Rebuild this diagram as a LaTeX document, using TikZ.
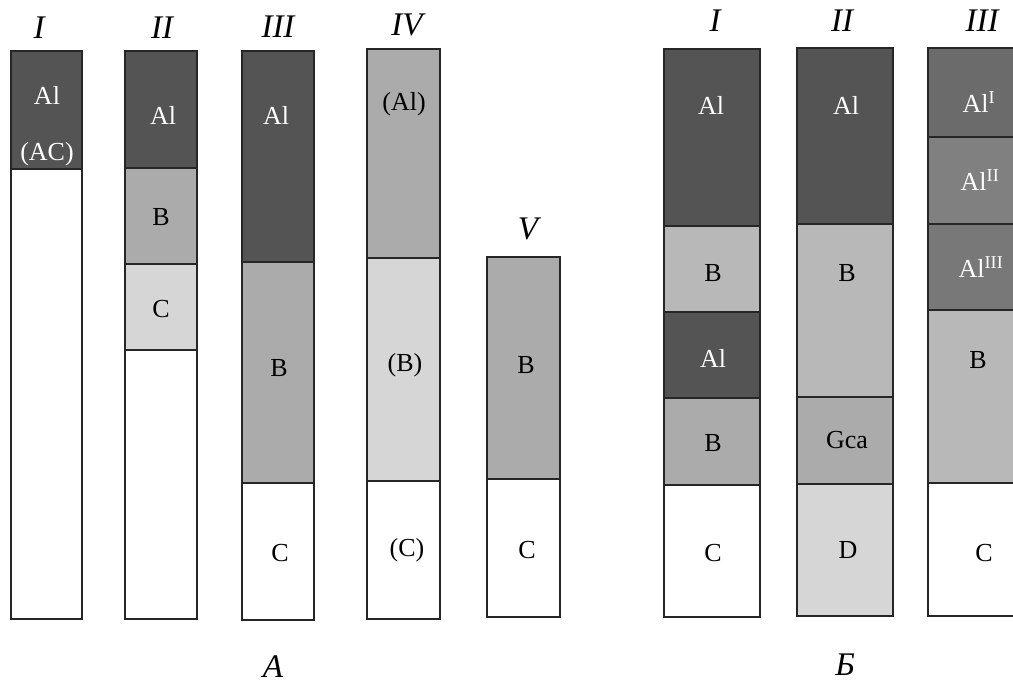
\documentclass[tikz,border=0pt]{standalone}
\usepackage{fontspec}
\setmainfont{Liberation Serif}
\definecolor{gDark}{gray}{0.33}
\definecolor{gMid}{gray}{0.67}
\definecolor{gMidL}{gray}{0.72}
\definecolor{gLight}{gray}{0.84}
\definecolor{gAlI}{gray}{0.42}
\definecolor{gAlII}{gray}{0.50}
\definecolor{gAlIII}{gray}{0.47}
\newcommand\lay[5]{\draw[layer,fill=#5] (#1,#3) rectangle (#2,#4);}
\tikzset{
  layer/.style={draw=black!85, line width=1.4pt},
  num/.style={font=\fontsize{33}{33}\selectfont\itshape, inner sep=0pt},
  lbl/.style={font=\fontsize{26}{26}\selectfont, inner sep=0pt},
  wlbl/.style={lbl, text=white},
}
\begin{document}
\begin{tikzpicture}[x=1pt,y=-1pt]
\clip (0,0) rectangle (1013,685);
\fill[white] (0,0) rectangle (1013,685);
% ---- group A ----
% I
\lay{11}{82}{51}{169}{gDark}
\lay{11}{82}{169}{619}{white}
\node[wlbl] (a1al) at (47,95) {Al};
\node[wlbl] (a1ac) at (47,154) {(AC)};
\node[num] (nA1) at (39,28) {I};
% II
\lay{125}{197}{51}{168}{gDark}
\lay{125}{197}{168}{264}{gMid}
\lay{125}{197}{264}{350}{gLight}
\lay{125}{197}{350}{619}{white}
\node[wlbl] (a2al) at (163,115) {Al};
\node[lbl] (a2b) at (161,217) {B};
\node[lbl] (a2c) at (161,309) {C};
\node[num] (nA2) at (162,28) {II};
% III
\lay{242}{314}{51}{262}{gDark}
\lay{242}{314}{262}{483}{gMid}
\lay{242}{314}{483}{620}{white}
\node[wlbl] (a3al) at (276,115) {Al};
\node[lbl] (a3b) at (279,368) {B};
\node[lbl] (a3c) at (280,553) {C};
\node[num] (nA3) at (278,27) {III};
% IV
\lay{367}{440}{49}{258}{gMid}
\lay{367}{440}{258}{481}{gLight}
\lay{367}{440}{481}{619}{white}
\node[lbl] (a4al) at (404,104) {(Al)};
\node[lbl] (a4b) at (405,365) {(B)};
\node[lbl] (a4c) at (407,550) {(C)};
\node[num] (nA4) at (407,25) {IV};
% V
\lay{487}{560}{257}{479}{gMid}
\lay{487}{560}{479}{617}{white}
\node[lbl] (a5b) at (526,365) {B};
\node[lbl] (a5c) at (527,550) {C};
\node[num] (nA5) at (528,229) {V};
\node[num] (capA) at (273,667) {A};
% ---- group B ----
% I
\lay{664}{760}{49}{226}{gDark}
\lay{664}{760}{226}{312}{gMidL}
\lay{664}{760}{312}{398}{gDark}
\lay{664}{760}{398}{485}{gMid}
\lay{664}{760}{485}{617}{white}
\node[wlbl] (b1al) at (711,105) {Al};
\node[lbl] (b1b) at (713,273) {B};
\node[wlbl] (b1al2) at (713,358) {Al};
\node[lbl] (b1b2) at (713,443) {B};
\node[lbl] (b1c) at (713,553) {C};
\node[num] (nB1) at (715,21) {I};
% II
\lay{797}{893}{48}{224}{gDark}
\lay{797}{893}{224}{397}{gMidL}
\lay{797}{893}{397}{484}{gMid}
\lay{797}{893}{484}{616}{gLight}
\node[wlbl] (b2al) at (846,105) {Al};
\node[lbl] (b2b) at (847,273) {B};
\node[lbl] (b2g) at (847,440) {Gca};
\node[lbl] (b2d) at (848,550) {D};
\node[num] (nB2) at (842,21) {II};
% III
\lay{928}{1030}{48}{137}{gAlI}
\lay{928}{1030}{137}{224}{gAlII}
\lay{928}{1030}{224}{310}{gAlIII}
\lay{928}{1030}{310}{483}{gMidL}
\lay{928}{1030}{483}{616}{white}
\node[wlbl] (b3a1) at (979,102) {Al\textsuperscript{I}};
\node[wlbl] (b3a2) at (980,180) {Al\textsuperscript{II}};
\node[wlbl] (b3a3) at (981,267) {Al\textsuperscript{III}};
\node[lbl] (b3b) at (978,360) {B};
\node[lbl] (b3c) at (984,553) {C};
\node[num] (nB3) at (982,21) {III};
\node[num] (capB) at (845,665) {Б};
\end{tikzpicture}
\end{document}
